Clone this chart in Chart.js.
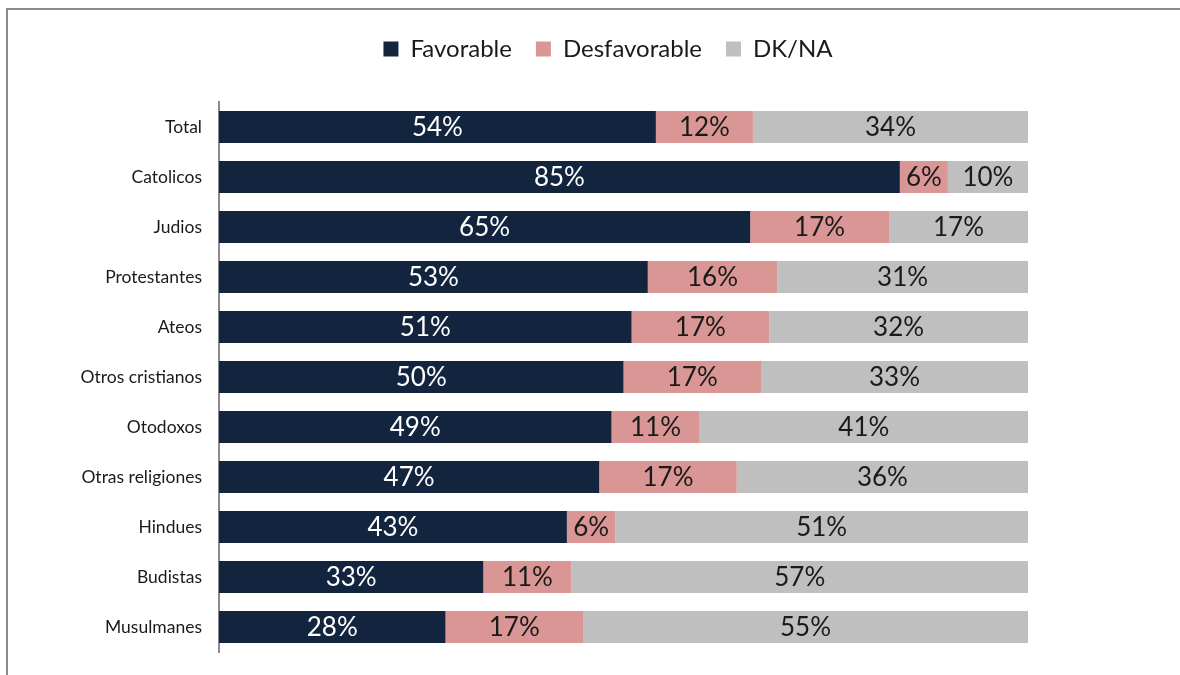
<!DOCTYPE html>
<html>
<head>
<meta charset="utf-8">
<script src="https://cdn.jsdelivr.net/npm/chart.js@4"></script>
<style>
    body { margin: 0; background: #fff; }
    #wrap { position: relative; width: 1180px; height: 675px; }
</style>
</head>
<body>
<div id="wrap"><canvas id="chart" width="1180" height="675"></canvas></div>
<script>
var categories = ['Total', 'Catolicos', 'Judios', 'Protestantes', 'Ateos', 'Otros cristianos',
    'Otodoxos', 'Otras religiones', 'Hindues', 'Budistas', 'Musulmanes'];
var favorable = [54, 85, 65, 53, 51, 50, 49, 47, 43, 33, 28];
var desfavorable = [12, 6, 17, 16, 17, 17, 11, 17, 6, 11, 17];
var dkna = [34, 10, 17, 31, 32, 33, 41, 36, 51, 57, 55];

// 100% stacked: each row scaled to its own total
function share(arr) {
    return arr.map(function (v, i) {
        return v / (favorable[i] + desfavorable[i] + dkna[i]) * 100;
    });
}

var ctx = document.getElementById('chart').getContext("2d");

// outer frame of the chart box
var framePlugin = {
    id: 'frame',
    beforeInit: function (chart) {
        // extra room under the legend
        var fit = chart.legend.fit;
        chart.legend.fit = function () {
            fit.call(this);
            this.height += 31;
        };
    },
    afterLayout: function (chart) {
        // legend sits a little right of the canvas centre
        chart.legend.left += 18;
        chart.legend.right += 18;
    },
    beforeDraw: function (chart) {
        var c = chart.ctx;
        c.save();
        c.strokeStyle = '#8c8c8c';
        c.lineWidth = 2;
        c.beginPath();
        c.moveTo(7, 700);
        c.lineTo(7, 9);
        c.lineTo(1200, 9);
        c.stroke();
        c.restore();
    }
};

// value labels in the middle of each bar segment
var labelPlugin = {
    id: 'barLabels',
    afterDatasetsDraw: function (chart) {
        var c = chart.ctx;
        c.save();
        c.font = '26px Lato';
        c.textAlign = 'center';
        c.textBaseline = 'middle';
        chart.data.datasets.forEach(function (ds, di) {
            var meta = chart.getDatasetMeta(di);
            meta.data.forEach(function (bar, i) {
                var x = (bar.x + bar.base) / 2;
                c.fillStyle = di === 0 ? '#ffffff' : '#1a1a1a';
                c.fillText(ds.raw[i] + '%', x, bar.y + 1);
            });
        });
        c.restore();
    }
};

new Chart(ctx, {
    type: 'bar',
    data: {
        labels: categories,
        datasets: [{
            label: 'Favorable',
            raw: favorable,
            data: share(favorable),
            backgroundColor: '#13243f'
        },
        {
            label: 'Desfavorable',
            raw: desfavorable,
            data: share(desfavorable),
            backgroundColor: '#d99694'
        },
        {
            label: 'DK/NA',
            raw: dkna,
            data: share(dkna),
            backgroundColor: '#bfbfbf'
        }]
    },
    options: {
        indexAxis: 'y',
        responsive: false,
        animation: false,
        layout: { padding: { left: 0, right: 0, top: 13, bottom: 23 } },
        datasets: {
            bar: { barPercentage: 0.64, categoryPercentage: 1 }
        },
        plugins: {
            tooltip: { enabled: false },
            legend: {
                position: 'top',
                labels: {
                    font: { family: 'Lato', size: 24 },
                    color: '#1a1a1a',
                    boxWidth: 15,
                    boxHeight: 15,
                    padding: 24
                }
            }
        },
        scales: {
            x: {
                stacked: true,
                display: false,
                min: 0,
                max: 100
            },
            y: {
                stacked: true,
                grid: { display: false, drawTicks: false },
                border: { color: '#8c8c8c', width: 2 },
                ticks: {
                    font: { family: 'Lato', size: 17.5 },
                    color: '#1a1a1a',
                    padding: 17
                },
                afterFit: function (scale) {
                    scale.width = 219;
                    scale.paddingTop = 0;
                    scale.paddingBottom = 0;
                }
            },
            // empty axis that only keeps the right margin free
            yRight: {
                position: 'right',
                grid: { display: false, drawTicks: false },
                border: { display: false },
                ticks: { display: false },
                afterFit: function (scale) {
                    scale.width = 152;
                    scale.paddingTop = 0;
                    scale.paddingBottom = 0;
                }
            }
        }
    },
    plugins: [framePlugin, labelPlugin]
});
</script>
</body>
</html>
